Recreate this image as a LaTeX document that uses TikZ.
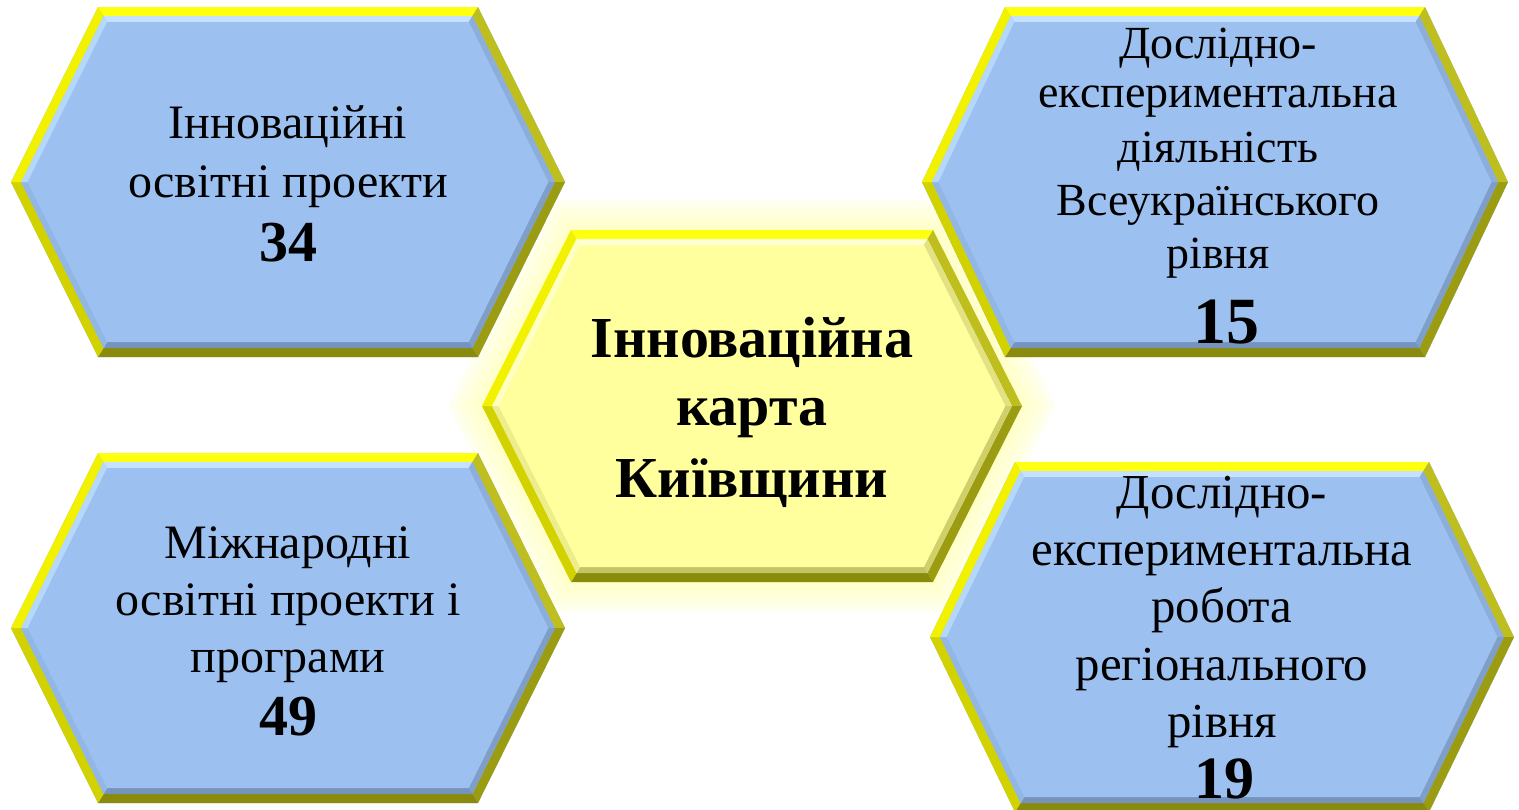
\documentclass[tikz,border=0pt]{standalone}
\usepackage{fontspec}
\setmainfont{Liberation Serif}
\definecolor{hexblue}{HTML}{9CC0EF}
\definecolor{hexyel}{HTML}{FFFF9E}
\definecolor{glowc}{HTML}{FFFFB8}
% outer rim colours (a top, b upper right, c lower right, d bottom, e lower left, f upper left)
\definecolor{rima}{HTML}{FFFF10}
\definecolor{rimb}{HTML}{BEBE1E}
\definecolor{rimc}{HTML}{9C9C12}
\definecolor{rimd}{HTML}{8A8A0C}
\definecolor{rime}{HTML}{D2D200}
\definecolor{rimf}{HTML}{F2F200}
% blue bevel
\definecolor{bbva}{HTML}{C4E2FF}
\definecolor{bbvb}{HTML}{8DAEDA}
\definecolor{bbvc}{HTML}{7F9EC8}
\definecolor{bbvd}{HTML}{7593BC}
\definecolor{bbve}{HTML}{92B7E5}
\definecolor{bbvf}{HTML}{B4D7FA}
% yellow bevel
\definecolor{ybva}{HTML}{FFFFD6}
\definecolor{ybvb}{HTML}{E2E285}
\definecolor{ybvc}{HTML}{CFCF6C}
\definecolor{ybvd}{HTML}{C4C466}
\definecolor{ybve}{HTML}{EDED8C}
\definecolor{ybvf}{HTML}{FFFFC2}
\newcommand\hexpath[5]{(#1-#3+#5,#2-#4) -- (#1+#3-#5,#2-#4) -- (#1+#3,#2) -- (#1+#3-#5,#2+#4) -- (#1-#3+#5,#2+#4) -- (#1-#3,#2) -- cycle}
% ring between hexagon inset #6 and inset #7, colours prefix #8
\newcommand\hexring[8]{%
  \pgfmathsetmacro\hk{sqrt((#5/#4)*(#5/#4)+1)}%
  \pgfmathsetmacro\oW{#3-#6*\hk}\pgfmathsetmacro\oH{#4-#6}\pgfmathsetmacro\oD{(#5/#4)*(#4-#6)}%
  \pgfmathsetmacro\iW{#3-#7*\hk}\pgfmathsetmacro\iH{#4-#7}\pgfmathsetmacro\iD{(#5/#4)*(#4-#7)}%
  \coordinate (o1) at (#1-\oW+\oD,#2-\oH);
  \coordinate (o2) at (#1+\oW-\oD,#2-\oH);
  \coordinate (o3) at (#1+\oW,#2);
  \coordinate (o4) at (#1+\oW-\oD,#2+\oH);
  \coordinate (o5) at (#1-\oW+\oD,#2+\oH);
  \coordinate (o6) at (#1-\oW,#2);
  \coordinate (i1) at (#1-\iW+\iD,#2-\iH);
  \coordinate (i2) at (#1+\iW-\iD,#2-\iH);
  \coordinate (i3) at (#1+\iW,#2);
  \coordinate (i4) at (#1+\iW-\iD,#2+\iH);
  \coordinate (i5) at (#1-\iW+\iD,#2+\iH);
  \coordinate (i6) at (#1-\iW,#2);
  \fill[#8a] (o1)--(o2)--(i2)--(i1)--cycle;
  \fill[#8b] (o2)--(o3)--(i3)--(i2)--cycle;
  \fill[#8c] (o3)--(o4)--(i4)--(i3)--cycle;
  \fill[#8d] (o4)--(o5)--(i5)--(i4)--cycle;
  \fill[#8e] (o5)--(o6)--(i6)--(i5)--cycle;
  \fill[#8f] (o6)--(o1)--(i1)--(i6)--cycle;
}
% full hexagon: cx cy w h d fill bevelprefix
\newcommand\hexagon[7]{%
  \fill[#6] \hexpath{#1}{#2}{#3}{#4}{#5};
  \hexring{#1}{#2}{#3}{#4}{#5}{0}{9}{rim}
  \hexring{#1}{#2}{#3}{#4}{#5}{9}{15}{#7}
  \pgfmathsetmacro\fW{#3-15*sqrt((#5/#4)*(#5/#4)+1)}\pgfmathsetmacro\fH{#4-15}\pgfmathsetmacro\fD{(#5/#4)*(#4-15)}%
  \fill[#6] \hexpath{#1}{#2}{\fW}{\fH}{\fD};
}
\newcommand\glowhex[6]{% cx cy w h d e
  \pgfmathsetmacro\gW{#3+#6*sqrt((#5/#4)*(#5/#4)+1)}\pgfmathsetmacro\gH{#4+#6}\pgfmathsetmacro\gD{(#5/#4)*(#4+#6)}%
  \fill[glowc,fill opacity=0.22] \hexpath{#1}{#2}{\gW}{\gH}{\gD};
}
\begin{document}
\begin{tikzpicture}[x=0.5pt,y=-0.5pt,
  lbl/.style={anchor=base,inner sep=0pt,text=black},
  regA/.style={lbl,font=\fontsize{24}{24}\selectfont},
  regB/.style={lbl,font=\fontsize{23}{23}\selectfont},
  regC/.style={lbl,font=\fontsize{24.4}{24.4}\selectfont},
  numA/.style={lbl,font=\fontsize{29}{29}\selectfont\bfseries},
  numB/.style={lbl,font=\fontsize{33}{33}\selectfont\bfseries},
  numC/.style={lbl,font=\fontsize{30}{30}\selectfont\bfseries},
  ctr/.style={lbl,font=\fontsize{29}{29}\selectfont\bfseries}]
\useasboundingbox (0,0) rectangle (1519,809);
\fill[white] (0,0) rectangle (1519,809);

% glow of the centre hexagon (behind everything)
\glowhex{752}{406}{270}{176}{89}{30}
\glowhex{752}{406}{270}{176}{89}{23}
\glowhex{752}{406}{270}{176}{89}{16}
\glowhex{752}{406}{270}{176}{89}{9}
\glowhex{752}{406}{270}{176}{89}{4}

% outer hexagons
\hexagon{288}{182}{277}{175}{87}{hexblue}{bbv}
\hexagon{1215}{182}{293}{175}{83}{hexblue}{bbv}
\hexagon{288}{628}{277}{175}{87}{hexblue}{bbv}
\hexagon{1222}{637}{292}{175}{85}{hexblue}{bbv}

% centre hexagon
\hexagon{752}{406}{270}{176}{89}{hexyel}{ybv}

% texts
\node[regA] (tl1) at (288,138) {Інноваційні};
\node[regA] (tl2) at (288,197) {освітні проекти};
\node[numA] (tl3) at (288,261) {34};

\node[regB] (tr1) at (1218,58) {Дослідно-};
\node[regB] (tr2) at (1218,107) {експериментальна};
\node[regB] (tr3) at (1218,162) {діяльність};
\node[regB] (tr4) at (1218,215) {Всеукраїнського};
\node[regB] (tr5) at (1218,268) {рівня};
\node[numB] (tr6) at (1226,343) {15};

\node[regA] (bl1) at (288,558) {Міжнародні};
\node[regA] (bl2) at (288,615) {освітні проекти і};
\node[regA] (bl3) at (288,672) {програми};
\node[numA] (bl4) at (288,735) {49};

\node[regC] (br1) at (1222,508) {Дослідно-};
\node[regC] (br2) at (1222,565) {експериментальна};
\node[regC] (br3) at (1222,622) {робота};
\node[regC] (br4) at (1222,680) {регіонального};
\node[regC] (br5) at (1222,737) {рівня};
\node[numC] (br6) at (1224,798) {19};

\node[ctr] (c1) at (752,357) {Інноваційна};
\node[ctr] (c2) at (752,425) {карта};
\node[ctr] (c3) at (752,497) {Київщини};
\end{tikzpicture}
\end{document}
